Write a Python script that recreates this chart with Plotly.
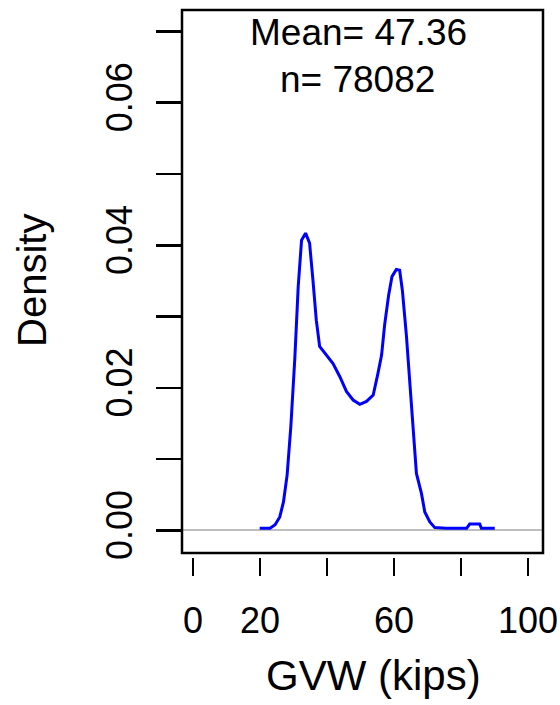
import plotly.graph_objects as go

# Density curve of GVW (kips)
gvw = [19.9, 23.0, 24.5, 25.9, 27.0, 28.1, 29.2, 30.4, 31.4, 32.4, 33.6, 34.8, 35.8,
       36.8, 37.8, 39.8, 41.8, 43.8, 45.8, 47.8, 49.8, 51.8, 53.8, 55.2, 56.3, 57.2,
       58.4, 59.4, 60.7, 61.7, 62.5, 63.7, 64.7, 65.7, 66.7, 68.2, 69.2, 70.7, 72.2,
       75.5, 81.7, 82.6, 85.6, 86.1, 90.1]
density = [0.0003, 0.0003, 0.0008, 0.0019, 0.0040, 0.0078, 0.0146, 0.0242, 0.0342,
           0.0407, 0.0417, 0.0403, 0.0351, 0.0295, 0.0258, 0.0246, 0.0234, 0.0216,
           0.0195, 0.0183, 0.0177, 0.0181, 0.0190, 0.0220, 0.0246, 0.0288, 0.0330,
           0.0356, 0.0366, 0.0365, 0.0337, 0.0274, 0.0211, 0.0136, 0.0080, 0.0052,
           0.0026, 0.0012, 0.0004, 0.0003, 0.0003, 0.0009, 0.0009, 0.0003, 0.0003]

x_ticks = [0, 20, 40, 60, 80, 100]
x_labels = ["0", "20", "", "60", "", "100"]
y_ticks = [0.00, 0.01, 0.02, 0.03, 0.04, 0.05, 0.06, 0.07]
y_labels = ["0.00", "", "0.02", "", "0.04", "", "0.06", ""]

mean_text = "Mean= 47.36"
n_text = "n= 78082"
x_title = "GVW (kips)"
y_title = "Density"

FONT = "Liberation Sans, Arial, sans-serif"

fig = go.Figure()
fig.add_trace(go.Scatter(x=gvw, y=density, mode="lines",
                         line=dict(color="#0000FF", width=3), showlegend=False))

fig.update_layout(
    width=560, height=705,
    margin=dict(l=182, r=17, t=10, b=148, autoexpand=False),
    paper_bgcolor="white", plot_bgcolor="white",
    font=dict(family=FONT, color="black"),
    xaxis=dict(range=[-3.3, 104.5], tickvals=x_ticks, ticktext=x_labels,
               ticks="outside", ticklen=18, tickwidth=2.5, tickcolor="black",
               showgrid=False, zeroline=False, showline=False,
               anchor="free", position=0, automargin=False,
               tickfont=dict(size=36, family=FONT), ticklabelstandoff=14),
    yaxis=dict(range=[-0.00316, 0.0730], domain=[4 / 547, 1],
               tickvals=y_ticks, ticktext=y_labels, tickangle=-90,
               ticks="outside", ticklen=25, tickwidth=2.5, tickcolor="black",
               showgrid=False, zeroline=True, zerolinecolor="#BEBEBE",
               zerolinewidth=2, showline=False, automargin=False,
               tickfont=dict(size=36, family=FONT), ticklabelstandoff=10),
    shapes=[dict(type="rect", xref="x domain", yref="y domain",
                 x0=0, x1=1, y0=0, y1=1, line=dict(color="black", width=2.5))],
    annotations=[
        dict(text=mean_text, x=49.5, y=0.0699, xref="x", yref="y",
             showarrow=False, font=dict(size=37, family=FONT),
             xanchor="center", yanchor="middle"),
        dict(text=n_text, x=49.0, y=0.0632, xref="x", yref="y",
             showarrow=False, font=dict(size=37, family=FONT),
             xanchor="center", yanchor="middle"),
        dict(text=y_title, x=(32 - 182) / 361, y=(557 - 281) / 547,
             xref="paper", yref="paper", textangle=-90, showarrow=False,
             font=dict(size=40, family=FONT), xanchor="center", yanchor="middle"),
        dict(text=x_title, x=(373 - 182) / 361, y=(557 - 675) / 547,
             xref="paper", yref="paper", showarrow=False,
             font=dict(size=42, family=FONT), xanchor="center", yanchor="middle"),
    ],
)

fig.write_html("out.html",
               config={"displayModeBar": False, "staticPlot": True},
               post_script="document.body.style.margin='0px';"
                           "document.body.style.overflow='hidden';")
